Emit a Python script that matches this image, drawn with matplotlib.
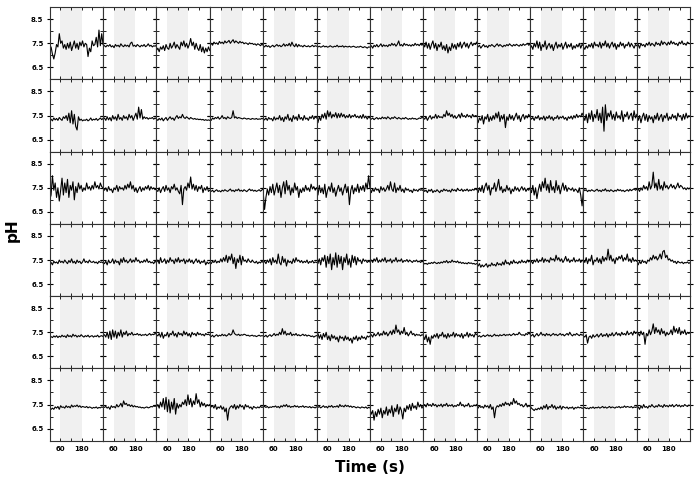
import numpy as np
import matplotlib
matplotlib.use('Agg')
import matplotlib.pyplot as plt
from matplotlib.ticker import FixedLocator

# pH traces, one list per panel, 12 panels per row
row1 = [
    [7.25, 7.35, 7.05, 6.85, 7.1, 7.45, 7.35, 7.9, 7.5, 7.6, 7.3, 7.45, 7.25, 7.5, 7.3, 7.55, 7.2, 7.4, 7.6, 7.3, 7.5, 7.25, 7.55, 7.4, 7.6, 7.35, 7.5, 7.45, 6.95, 7.3, 7.15, 7.6, 7.4, 7.45, 7.75, 7.35, 8.05, 7.4, 7.9, 7.45],
    [7.45, 7.4, 7.35, 7.42, 7.38, 7.45, 7.35, 7.4, 7.32, 7.45, 7.38, 7.42, 7.35, 7.48, 7.4, 7.36, 7.44, 7.38, 7.42, 7.35, 7.5, 7.55, 7.38, 7.42, 7.36, 7.45, 7.4, 7.35, 7.42, 7.38, 7.45, 7.36, 7.4, 7.48, 7.38, 7.42, 7.35, 7.4, 7.38, 7.42],
    [7.2, 7.3, 7.15, 7.35, 7.25, 7.4, 7.2, 7.45, 7.3, 7.25, 7.5, 7.3, 7.4, 7.55, 7.3, 7.45, 7.35, 7.25, 7.55, 7.4, 7.6, 7.35, 7.5, 7.3, 7.45, 7.7, 7.4, 7.55, 7.25, 7.5, 7.3, 7.2, 7.45, 7.15, 7.35, 7.1, 7.3, 7.15, 7.35, 7.2],
    [7.45, 7.5, 7.42, 7.55, 7.48, 7.52, 7.45, 7.58, 7.5, 7.55, 7.48, 7.6, 7.52, 7.56, 7.62, 7.5, 7.58, 7.65, 7.52, 7.6, 7.55, 7.5, 7.58, 7.52, 7.55, 7.48, 7.52, 7.5, 7.45, 7.52, 7.48, 7.5, 7.45, 7.48, 7.42, 7.48, 7.45, 7.4, 7.46, 7.42],
    [7.4, 7.35, 7.42, 7.36, 7.4, 7.33, 7.38, 7.42, 7.35, 7.4, 7.45, 7.38, 7.42, 7.36, 7.4, 7.48, 7.38, 7.45, 7.4, 7.5, 7.38, 7.55, 7.42, 7.36, 7.48, 7.35, 7.45, 7.38, 7.4, 7.35, 7.42, 7.38, 7.36, 7.4, 7.35, 7.38, 7.42, 7.36, 7.4, 7.38],
    [7.38, 7.35, 7.38, 7.34, 7.36, 7.4, 7.35, 7.38, 7.34, 7.36, 7.4, 7.36, 7.34, 7.38, 7.36, 7.42, 7.35, 7.38, 7.36, 7.4, 7.34, 7.38, 7.36, 7.35, 7.38, 7.34, 7.36, 7.38, 7.35, 7.33, 7.36, 7.34, 7.38, 7.35, 7.32, 7.36, 7.34, 7.3, 7.35, 7.34],
    [7.35, 7.4, 7.3, 7.42, 7.36, 7.45, 7.35, 7.4, 7.48, 7.36, 7.44, 7.38, 7.42, 7.36, 7.45, 7.4, 7.5, 7.42, 7.48, 7.38, 7.46, 7.6, 7.4, 7.45, 7.38, 7.5, 7.42, 7.46, 7.4, 7.44, 7.38, 7.45, 7.4, 7.5, 7.42, 7.46, 7.4, 7.48, 7.42, 7.5],
    [7.5, 7.35, 7.55, 7.3, 7.5, 7.25, 7.45, 7.6, 7.3, 7.5, 7.2, 7.45, 7.35, 7.55, 7.25, 7.4, 7.2, 7.45, 7.1, 7.35, 7.2, 7.5, 7.3, 7.45, 7.25, 7.5, 7.35, 7.55, 7.3, 7.45, 7.55, 7.35, 7.5, 7.3, 7.45, 7.55, 7.4, 7.5, 7.45, 7.55],
    [7.4, 7.35, 7.42, 7.3, 7.38, 7.45, 7.35, 7.4, 7.32, 7.42, 7.38, 7.45, 7.4, 7.35, 7.42, 7.48, 7.38, 7.45, 7.4, 7.35, 7.42, 7.38, 7.45, 7.4, 7.48, 7.42, 7.38, 7.45, 7.4, 7.46, 7.42, 7.38, 7.45, 7.4, 7.48, 7.42, 7.45, 7.5, 7.42, 7.46],
    [7.3, 7.4, 7.25, 7.5, 7.35, 7.6, 7.3, 7.55, 7.2, 7.45, 7.35, 7.6, 7.25, 7.4, 7.5, 7.3, 7.45, 7.2, 7.4, 7.55, 7.3, 7.45, 7.35, 7.5, 7.25, 7.4, 7.55, 7.3, 7.45, 7.35, 7.5, 7.25, 7.4, 7.3, 7.45, 7.35, 7.5, 7.3, 7.45, 7.4],
    [7.35, 7.25, 7.4, 7.3, 7.45, 7.35, 7.5, 7.3, 7.55, 7.4, 7.45, 7.35, 7.55, 7.3, 7.5, 7.4, 7.6, 7.35, 7.5, 7.3, 7.45, 7.55, 7.35, 7.5, 7.25, 7.45, 7.35, 7.55, 7.4, 7.5, 7.3, 7.45, 7.4, 7.55, 7.35, 7.5, 7.4, 7.3, 7.45, 7.4],
    [7.35, 7.45, 7.3, 7.5, 7.4, 7.45, 7.35, 7.5, 7.42, 7.55, 7.4, 7.5, 7.45, 7.38, 7.55, 7.45, 7.5, 7.4, 7.6, 7.45, 7.55, 7.5, 7.42, 7.55, 7.45, 7.6, 7.48, 7.55, 7.45, 7.5, 7.4, 7.55, 7.48, 7.6, 7.45, 7.5, 7.42, 7.55, 7.5, 7.48],
]
row2 = [
    [7.3, 7.35, 7.28, 7.4, 7.32, 7.38, 7.3, 7.42, 7.35, 7.3, 7.45, 7.38, 7.5, 7.3, 7.6, 7.2, 7.7, 7.15, 7.55, 7.05, 6.9, 7.45, 7.3, 7.35, 7.28, 7.32, 7.3, 7.35, 7.28, 7.32, 7.4, 7.3, 7.35, 7.32, 7.38, 7.3, 7.35, 7.4, 7.33, 7.38],
    [7.35, 7.4, 7.3, 7.45, 7.32, 7.42, 7.28, 7.5, 7.35, 7.45, 7.3, 7.55, 7.35, 7.42, 7.3, 7.5, 7.38, 7.45, 7.32, 7.55, 7.4, 7.5, 7.3, 7.45, 7.6, 7.35, 7.85, 7.4, 7.75, 7.35, 7.45, 7.38, 7.42, 7.35, 7.4, 7.38, 7.42, 7.35, 7.4, 7.36],
    [7.35, 7.3, 7.38, 7.32, 7.4, 7.28, 7.36, 7.42, 7.3, 7.38, 7.45, 7.35, 7.4, 7.3, 7.42, 7.5, 7.38, 7.45, 7.4, 7.55, 7.42, 7.38, 7.45, 7.4, 7.35, 7.42, 7.38, 7.35, 7.38, 7.34, 7.36, 7.33, 7.35, 7.32, 7.34, 7.3, 7.33, 7.3, 7.32, 7.3],
    [7.35, 7.3, 7.4, 7.35, 7.42, 7.38, 7.45, 7.35, 7.4, 7.5, 7.38, 7.42, 7.35, 7.45, 7.4, 7.38, 7.42, 7.7, 7.4, 7.45, 7.38, 7.42, 7.4, 7.38, 7.36, 7.4, 7.38, 7.35, 7.38, 7.36, 7.34, 7.38, 7.36, 7.35, 7.38, 7.34, 7.36, 7.35, 7.38, 7.36],
    [7.38, 7.32, 7.4, 7.3, 7.42, 7.35, 7.38, 7.28, 7.45, 7.32, 7.4, 7.35, 7.5, 7.3, 7.42, 7.25, 7.45, 7.35, 7.55, 7.3, 7.4, 7.25, 7.5, 7.35, 7.45, 7.3, 7.55, 7.35, 7.42, 7.3, 7.5, 7.35, 7.4, 7.3, 7.45, 7.38, 7.5, 7.35, 7.45, 7.4],
    [7.35, 7.2, 7.45, 7.3, 7.55, 7.4, 7.6, 7.35, 7.7, 7.45, 7.65, 7.4, 7.55, 7.45, 7.62, 7.4, 7.58, 7.42, 7.6, 7.45, 7.55, 7.4, 7.5, 7.42, 7.55, 7.4, 7.5, 7.45, 7.55, 7.42, 7.48, 7.4, 7.5, 7.38, 7.55, 7.4, 7.48, 7.35, 7.45, 7.4],
    [7.38, 7.35, 7.4, 7.33, 7.38, 7.42, 7.35, 7.4, 7.36, 7.44, 7.38, 7.42, 7.36, 7.45, 7.4, 7.35, 7.42, 7.38, 7.45, 7.4, 7.36, 7.42, 7.38, 7.35, 7.4, 7.36, 7.42, 7.38, 7.34, 7.38, 7.35, 7.4, 7.36, 7.38, 7.34, 7.36, 7.4, 7.38, 7.42, 7.4],
    [7.4, 7.35, 7.45, 7.3, 7.42, 7.5, 7.35, 7.45, 7.4, 7.55, 7.38, 7.5, 7.42, 7.45, 7.4, 7.55, 7.45, 7.7, 7.5, 7.6, 7.45, 7.55, 7.4, 7.5, 7.38, 7.45, 7.55, 7.4, 7.6, 7.45, 7.5, 7.42, 7.55, 7.45, 7.5, 7.4, 7.55, 7.45, 7.5, 7.48],
    [7.45, 7.2, 7.4, 7.3, 7.5, 7.15, 7.45, 7.35, 7.55, 7.25, 7.45, 7.3, 7.5, 7.35, 7.6, 7.4, 7.65, 7.25, 7.5, 7.35, 7.55, 7.0, 7.45, 7.3, 7.55, 7.35, 7.5, 7.3, 7.45, 7.6, 7.35, 7.5, 7.25, 7.45, 7.55, 7.35, 7.5, 7.4, 7.55, 7.45],
    [7.45, 7.35, 7.42, 7.3, 7.45, 7.38, 7.5, 7.32, 7.42, 7.35, 7.48, 7.3, 7.45, 7.38, 7.5, 7.35, 7.45, 7.3, 7.42, 7.38, 7.5, 7.35, 7.45, 7.4, 7.48, 7.35, 7.42, 7.3, 7.45, 7.38, 7.48, 7.35, 7.5, 7.4, 7.55, 7.42, 7.5, 7.45, 7.6, 7.48],
    [7.45, 7.3, 7.55, 7.2, 7.6, 7.35, 7.7, 7.25, 7.55, 7.4, 7.75, 7.3, 7.6, 7.2, 7.85, 6.85, 7.95, 7.3, 7.6, 7.45, 7.7, 7.35, 7.55, 7.3, 7.65, 7.4, 7.5, 7.35, 7.7, 7.25, 7.55, 7.45, 7.65, 7.35, 7.5, 7.6, 7.3, 7.7, 7.4, 7.55],
    [7.55, 7.3, 7.5, 7.2, 7.45, 7.6, 7.3, 7.55, 7.25, 7.5, 7.35, 7.45, 7.2, 7.5, 7.35, 7.6, 7.3, 7.45, 7.55, 7.25, 7.5, 7.4, 7.6, 7.3, 7.45, 7.35, 7.55, 7.4, 7.5, 7.3, 7.6, 7.45, 7.5, 7.3, 7.55, 7.35, 7.6, 7.4, 7.5, 7.45],
]
row3 = [
    [7.0, 7.2, 8.0, 7.4, 7.7, 7.1, 7.5, 6.95, 7.4, 7.9, 7.2, 7.7, 7.3, 7.85, 7.1, 7.6, 7.4, 7.75, 7.0, 7.55, 7.3, 7.7, 7.45, 7.6, 7.35, 7.5, 7.4, 7.7, 7.45, 7.55, 7.4, 7.6, 7.45, 7.75, 7.5, 7.6, 7.45, 7.7, 7.55, 7.5],
    [7.45, 7.4, 7.5, 7.35, 7.55, 7.4, 7.45, 7.3, 7.5, 7.42, 7.6, 7.35, 7.55, 7.45, 7.5, 7.4, 7.6, 7.45, 7.65, 7.5, 7.75, 7.45, 7.6, 7.35, 7.5, 7.3, 7.45, 7.55, 7.35, 7.5, 7.4, 7.55, 7.45, 7.6, 7.4, 7.55, 7.45, 7.5, 7.42, 7.45],
    [7.4, 7.35, 7.5, 7.3, 7.45, 7.55, 7.35, 7.6, 7.4, 7.5, 7.3, 7.55, 7.45, 7.65, 7.4, 7.5, 7.35, 7.25, 7.6, 6.8, 7.45, 7.55, 7.4, 7.7, 7.5, 7.95, 7.45, 7.65, 7.4, 7.6, 7.35, 7.55, 7.45, 7.6, 7.3, 7.5, 7.4, 7.55, 7.35, 7.4],
    [7.38, 7.35, 7.4, 7.32, 7.38, 7.42, 7.35, 7.38, 7.33, 7.4, 7.36, 7.42, 7.38, 7.35, 7.4, 7.45, 7.36, 7.4, 7.34, 7.42, 7.38, 7.45, 7.36, 7.4, 7.35, 7.42, 7.38, 7.34, 7.4, 7.45, 7.38, 7.42, 7.36, 7.4, 7.35, 7.38, 7.42, 7.36, 7.4, 7.48],
    [7.3, 6.6, 7.1, 7.45, 7.2, 7.55, 7.3, 7.65, 7.2, 7.45, 7.7, 7.3, 7.6, 7.1, 7.5, 7.75, 7.25, 7.8, 7.4, 7.6, 7.2, 7.5, 7.3, 7.7, 7.4, 7.55, 7.1, 7.45, 7.3, 7.5, 7.35, 7.6, 7.4, 7.5, 7.35, 7.65, 7.45, 7.55, 7.4, 7.5],
    [7.45, 7.2, 7.6, 7.3, 7.5, 7.25, 7.65, 7.1, 7.4, 7.55, 7.35, 7.7, 7.3, 7.5, 7.15, 7.4, 7.6, 7.35, 7.5, 7.2, 7.45, 7.65, 7.3, 7.55, 6.8, 7.4, 7.6, 7.25, 7.5, 7.35, 7.65, 7.3, 7.55, 7.4, 7.6, 7.35, 7.7, 7.45, 8.0, 7.5],
    [7.5, 7.3, 7.45, 7.35, 7.5, 7.4, 7.45, 7.3, 7.55, 7.4, 7.5, 7.35, 7.45, 7.6, 7.4, 7.75, 7.45, 7.35, 7.7, 7.3, 7.5, 7.4, 7.6, 7.35, 7.45, 7.3, 7.5, 7.4, 7.45, 7.35, 7.4, 7.3, 7.45, 7.38, 7.42, 7.35, 7.45, 7.4, 7.42, 7.38],
    [7.45, 7.35, 7.4, 7.3, 7.42, 7.36, 7.44, 7.3, 7.38, 7.34, 7.42, 7.36, 7.3, 7.4, 7.35, 7.45, 7.38, 7.42, 7.35, 7.4, 7.32, 7.45, 7.38, 7.42, 7.35, 7.48, 7.4, 7.38, 7.45, 7.35, 7.42, 7.38, 7.45, 7.36, 7.42, 7.38, 7.44, 7.4, 7.46, 7.42],
    [7.4, 7.3, 7.5, 7.35, 7.6, 7.3, 7.55, 7.7, 7.4, 7.6, 7.2, 7.5, 7.45, 7.7, 7.35, 7.55, 7.85, 7.4, 7.55, 7.3, 7.45, 7.35, 7.6, 7.4, 7.5, 7.25, 7.45, 7.35, 7.55, 7.4, 7.5, 7.35, 7.45, 7.55, 7.4, 7.5, 7.35, 7.45, 7.4, 7.5],
    [7.45, 7.3, 7.6, 7.2, 7.5, 7.05, 7.4, 7.65, 7.35, 7.75, 7.5, 7.9, 7.4, 7.65, 7.3, 7.8, 7.4, 7.55, 7.3, 7.8, 7.4, 7.6, 7.25, 7.5, 7.7, 7.4, 7.6, 7.35, 7.5, 7.45, 7.4, 7.5, 7.35, 7.45, 7.4, 7.3, 7.5, 7.2, 6.75, 7.4],
    [7.45, 7.38, 7.42, 7.34, 7.4, 7.36, 7.42, 7.38, 7.35, 7.4, 7.44, 7.36, 7.4, 7.34, 7.42, 7.38, 7.46, 7.36, 7.4, 7.35, 7.42, 7.38, 7.34, 7.4, 7.36, 7.44, 7.38, 7.42, 7.36, 7.4, 7.34, 7.38, 7.42, 7.36, 7.44, 7.38, 7.42, 7.46, 7.4, 7.44],
    [7.4, 7.45, 7.35, 7.5, 7.4, 7.6, 7.45, 7.55, 7.4, 7.75, 7.45, 7.6, 8.15, 7.5, 7.7, 7.4, 7.85, 7.45, 7.6, 7.4, 7.75, 7.5, 7.6, 7.45, 7.55, 7.65, 7.5, 7.6, 7.45, 7.55, 7.7, 7.5, 7.6, 7.55, 7.45, 7.5, 7.42, 7.5, 7.45, 7.5],
]
row4 = [
    [7.35, 7.4, 7.3, 7.45, 7.38, 7.42, 7.35, 7.5, 7.4, 7.45, 7.38, 7.5, 7.42, 7.35, 7.48, 7.4, 7.55, 7.38, 7.45, 7.35, 7.5, 7.4, 7.45, 7.35, 7.42, 7.55, 7.4, 7.45, 7.38, 7.5, 7.42, 7.4, 7.45, 7.38, 7.42, 7.35, 7.45, 7.4, 7.42, 7.38],
    [7.4, 7.35, 7.45, 7.3, 7.5, 7.38, 7.42, 7.55, 7.35, 7.5, 7.4, 7.45, 7.3, 7.55, 7.4, 7.6, 7.42, 7.5, 7.38, 7.45, 7.55, 7.4, 7.5, 7.42, 7.6, 7.45, 7.5, 7.38, 7.45, 7.4, 7.5, 7.42, 7.55, 7.4, 7.45, 7.38, 7.42, 7.35, 7.45, 7.4],
    [7.4, 7.5, 7.35, 7.6, 7.4, 7.45, 7.55, 7.35, 7.5, 7.4, 7.6, 7.45, 7.5, 7.35, 7.55, 7.42, 7.6, 7.4, 7.5, 7.45, 7.55, 7.35, 7.5, 7.42, 7.55, 7.4, 7.5, 7.35, 7.45, 7.55, 7.4, 7.5, 7.35, 7.45, 7.4, 7.5, 7.3, 7.42, 7.35, 7.4],
    [7.4, 7.35, 7.45, 7.4, 7.5, 7.38, 7.45, 7.4, 7.55, 7.42, 7.6, 7.45, 7.7, 7.4, 7.65, 7.5, 7.75, 7.35, 7.6, 7.15, 7.55, 7.4, 7.7, 7.3, 7.65, 7.45, 7.5, 7.4, 7.55, 7.45, 7.4, 7.5, 7.42, 7.38, 7.45, 7.35, 7.42, 7.38, 7.45, 7.4],
    [7.4, 7.45, 7.35, 7.5, 7.4, 7.55, 7.3, 7.6, 7.4, 7.5, 7.35, 7.75, 7.4, 7.3, 7.65, 7.4, 7.55, 7.25, 7.5, 7.4, 7.45, 7.35, 7.55, 7.4, 7.6, 7.45, 7.5, 7.4, 7.48, 7.38, 7.45, 7.4, 7.5, 7.36, 7.44, 7.4, 7.48, 7.38, 7.42, 7.4],
    [7.4, 7.35, 7.55, 7.3, 7.6, 7.45, 7.7, 7.2, 7.65, 7.35, 7.75, 7.1, 7.6, 7.3, 7.8, 7.2, 7.7, 7.35, 7.65, 7.1, 7.6, 7.4, 7.75, 7.3, 7.55, 7.2, 7.7, 7.4, 7.65, 7.3, 7.6, 7.45, 7.5, 7.35, 7.55, 7.45, 7.5, 7.4, 7.45, 7.42],
    [7.45, 7.5, 7.4, 7.55, 7.45, 7.6, 7.4, 7.5, 7.42, 7.55, 7.45, 7.6, 7.4, 7.5, 7.45, 7.55, 7.38, 7.5, 7.45, 7.6, 7.42, 7.5, 7.45, 7.55, 7.4, 7.48, 7.45, 7.52, 7.42, 7.5, 7.45, 7.4, 7.48, 7.44, 7.5, 7.42, 7.46, 7.4, 7.45, 7.42],
    [7.38, 7.34, 7.36, 7.32, 7.38, 7.35, 7.4, 7.36, 7.42, 7.38, 7.35, 7.4, 7.36, 7.42, 7.38, 7.45, 7.4, 7.48, 7.38, 7.44, 7.4, 7.5, 7.42, 7.45, 7.4, 7.46, 7.38, 7.42, 7.36, 7.4, 7.35, 7.38, 7.34, 7.4, 7.36, 7.38, 7.34, 7.36, 7.32, 7.35],
    [7.3, 7.25, 7.35, 7.2, 7.3, 7.22, 7.28, 7.35, 7.2, 7.3, 7.25, 7.38, 7.28, 7.32, 7.25, 7.4, 7.3, 7.35, 7.28, 7.42, 7.3, 7.5, 7.35, 7.4, 7.3, 7.45, 7.35, 7.5, 7.38, 7.42, 7.35, 7.45, 7.38, 7.5, 7.4, 7.45, 7.38, 7.5, 7.42, 7.48],
    [7.4, 7.45, 7.35, 7.5, 7.42, 7.55, 7.4, 7.5, 7.45, 7.6, 7.4, 7.55, 7.45, 7.5, 7.4, 7.6, 7.5, 7.55, 7.45, 7.7, 7.5, 7.6, 7.45, 7.55, 7.4, 7.5, 7.65, 7.45, 7.55, 7.4, 7.5, 7.45, 7.6, 7.42, 7.5, 7.45, 7.55, 7.4, 7.5, 7.45],
    [7.5, 7.4, 7.6, 7.35, 7.55, 7.45, 7.7, 7.3, 7.5, 7.45, 7.6, 7.4, 7.55, 7.35, 7.65, 7.45, 7.6, 7.5, 7.95, 7.5, 7.7, 7.45, 7.55, 7.35, 7.6, 7.5, 7.65, 7.55, 7.7, 7.45, 7.6, 7.5, 7.75, 7.45, 7.55, 7.4, 7.6, 7.45, 7.5, 7.45],
    [7.4, 7.3, 7.45, 7.35, 7.5, 7.4, 7.45, 7.35, 7.5, 7.45, 7.6, 7.5, 7.7, 7.55, 7.65, 7.5, 7.6, 7.75, 7.55, 7.85, 7.9, 7.6, 7.7, 7.5, 7.55, 7.45, 7.5, 7.4, 7.45, 7.35, 7.45, 7.4, 7.38, 7.42, 7.35, 7.4, 7.38, 7.42, 7.36, 7.4],
]
row5 = [
    [7.3, 7.32, 7.28, 7.35, 7.3, 7.36, 7.28, 7.34, 7.3, 7.38, 7.32, 7.35, 7.28, 7.4, 7.32, 7.36, 7.3, 7.42, 7.34, 7.38, 7.3, 7.36, 7.32, 7.4, 7.34, 7.3, 7.36, 7.32, 7.38, 7.3, 7.34, 7.36, 7.3, 7.35, 7.32, 7.38, 7.3, 7.34, 7.36, 7.32],
    [7.35, 7.4, 7.3, 7.5, 7.25, 7.55, 7.2, 7.6, 7.3, 7.55, 7.25, 7.5, 7.35, 7.6, 7.3, 7.5, 7.4, 7.55, 7.35, 7.45, 7.4, 7.5, 7.38, 7.42, 7.4, 7.45, 7.38, 7.42, 7.36, 7.4, 7.38, 7.42, 7.36, 7.4, 7.45, 7.38, 7.42, 7.4, 7.45, 7.42],
    [7.4, 7.35, 7.45, 7.3, 7.5, 7.25, 7.4, 7.35, 7.5, 7.3, 7.45, 7.4, 7.55, 7.35, 7.45, 7.3, 7.5, 7.4, 7.45, 7.35, 7.55, 7.4, 7.5, 7.35, 7.45, 7.3, 7.5, 7.4, 7.45, 7.35, 7.5, 7.4, 7.45, 7.38, 7.42, 7.35, 7.45, 7.4, 7.42, 7.38],
    [7.35, 7.32, 7.38, 7.3, 7.36, 7.4, 7.33, 7.38, 7.35, 7.42, 7.36, 7.4, 7.34, 7.38, 7.45, 7.38, 7.42, 7.6, 7.45, 7.4, 7.38, 7.42, 7.36, 7.4, 7.38, 7.42, 7.4, 7.36, 7.38, 7.34, 7.36, 7.38, 7.34, 7.36, 7.32, 7.35, 7.38, 7.34, 7.36, 7.35],
    [7.35, 7.32, 7.38, 7.3, 7.36, 7.4, 7.33, 7.38, 7.45, 7.36, 7.42, 7.38, 7.5, 7.4, 7.65, 7.42, 7.55, 7.38, 7.45, 7.4, 7.5, 7.36, 7.42, 7.38, 7.45, 7.36, 7.4, 7.35, 7.38, 7.42, 7.36, 7.4, 7.34, 7.38, 7.36, 7.32, 7.35, 7.3, 7.34, 7.36],
    [7.35, 7.45, 7.25, 7.4, 7.2, 7.45, 7.3, 7.5, 7.2, 7.35, 7.15, 7.4, 7.25, 7.35, 7.2, 7.3, 7.1, 7.35, 7.25, 7.3, 7.15, 7.35, 7.2, 7.3, 7.15, 7.25, 7.05, 7.3, 7.2, 7.35, 7.15, 7.3, 7.2, 7.35, 7.25, 7.3, 7.2, 7.35, 7.3, 7.35],
    [7.35, 7.4, 7.3, 7.45, 7.35, 7.4, 7.5, 7.35, 7.45, 7.38, 7.55, 7.4, 7.5, 7.35, 7.45, 7.55, 7.4, 7.6, 7.45, 7.8, 7.5, 7.6, 7.4, 7.55, 7.45, 7.7, 7.4, 7.5, 7.35, 7.45, 7.55, 7.4, 7.45, 7.35, 7.42, 7.38, 7.4, 7.35, 7.4, 7.38],
    [7.35, 7.2, 7.4, 7.1, 7.3, 7.0, 7.35, 7.25, 7.4, 7.3, 7.45, 7.25, 7.4, 7.35, 7.5, 7.3, 7.4, 7.25, 7.45, 7.3, 7.4, 7.35, 7.5, 7.3, 7.45, 7.35, 7.4, 7.3, 7.45, 7.25, 7.4, 7.35, 7.5, 7.3, 7.45, 7.35, 7.4, 7.3, 7.45, 7.4],
    [7.35, 7.32, 7.36, 7.3, 7.34, 7.38, 7.32, 7.36, 7.4, 7.34, 7.38, 7.32, 7.36, 7.42, 7.35, 7.38, 7.34, 7.4, 7.36, 7.38, 7.42, 7.36, 7.4, 7.38, 7.42, 7.36, 7.4, 7.45, 7.38, 7.42, 7.4, 7.5, 7.42, 7.38, 7.4, 7.36, 7.45, 7.4, 7.48, 7.42],
    [7.4, 7.35, 7.42, 7.3, 7.38, 7.45, 7.35, 7.4, 7.5, 7.38, 7.42, 7.35, 7.45, 7.38, 7.42, 7.35, 7.4, 7.45, 7.38, 7.42, 7.36, 7.4, 7.45, 7.38, 7.42, 7.35, 7.4, 7.45, 7.38, 7.5, 7.4, 7.35, 7.42, 7.38, 7.45, 7.4, 7.36, 7.42, 7.38, 7.4],
    [7.35, 7.3, 7.4, 7.05, 7.3, 7.35, 7.25, 7.4, 7.3, 7.35, 7.42, 7.3, 7.38, 7.45, 7.32, 7.4, 7.35, 7.45, 7.3, 7.42, 7.36, 7.48, 7.35, 7.4, 7.5, 7.38, 7.45, 7.35, 7.5, 7.4, 7.45, 7.38, 7.55, 7.4, 7.45, 7.5, 7.38, 7.55, 7.45, 7.5],
    [7.4, 7.45, 7.35, 7.55, 7.4, 7.5, 7.0, 7.45, 7.35, 7.6, 7.4, 7.55, 7.85, 7.45, 7.7, 7.5, 7.6, 7.4, 7.65, 7.45, 7.55, 7.35, 7.5, 7.4, 7.45, 7.6, 7.4, 7.75, 7.5, 7.65, 7.45, 7.7, 7.4, 7.55, 7.45, 7.6, 7.4, 7.5, 7.45, 7.5],
]
row6 = [
    [7.25, 7.3, 7.35, 7.3, 7.4, 7.35, 7.42, 7.3, 7.45, 7.38, 7.4, 7.35, 7.45, 7.38, 7.42, 7.36, 7.48, 7.4, 7.45, 7.42, 7.48, 7.4, 7.45, 7.38, 7.42, 7.4, 7.38, 7.42, 7.36, 7.4, 7.38, 7.34, 7.38, 7.36, 7.4, 7.34, 7.38, 7.36, 7.4, 7.38],
    [7.4, 7.38, 7.42, 7.35, 7.4, 7.3, 7.45, 7.38, 7.42, 7.36, 7.5, 7.4, 7.45, 7.55, 7.4, 7.65, 7.5, 7.55, 7.45, 7.5, 7.42, 7.48, 7.4, 7.45, 7.4, 7.42, 7.38, 7.4, 7.36, 7.38, 7.35, 7.38, 7.4, 7.36, 7.38, 7.42, 7.4, 7.45, 7.42, 7.48],
    [7.4, 7.5, 7.35, 7.6, 7.4, 7.75, 7.3, 7.8, 7.2, 7.7, 7.15, 7.6, 7.3, 7.75, 7.1, 7.55, 7.35, 7.5, 7.4, 7.6, 7.5, 7.7, 7.45, 7.9, 7.5, 7.75, 7.4, 7.65, 7.5, 7.95, 7.55, 7.7, 7.4, 7.6, 7.45, 7.55, 7.4, 7.5, 7.45, 7.5],
    [7.5, 7.4, 7.45, 7.35, 7.5, 7.3, 7.4, 7.35, 7.45, 7.3, 7.4, 7.2, 7.35, 6.85, 7.3, 7.4, 7.45, 7.35, 7.5, 7.3, 7.45, 7.35, 7.5, 7.4, 7.45, 7.3, 7.5, 7.4, 7.45, 7.35, 7.4, 7.3, 7.42, 7.38, 7.35, 7.4, 7.36, 7.42, 7.38, 7.4],
    [7.4, 7.42, 7.38, 7.42, 7.36, 7.4, 7.38, 7.42, 7.4, 7.44, 7.38, 7.42, 7.36, 7.45, 7.4, 7.48, 7.42, 7.5, 7.4, 7.45, 7.38, 7.42, 7.4, 7.46, 7.4, 7.44, 7.38, 7.42, 7.4, 7.45, 7.38, 7.42, 7.4, 7.38, 7.42, 7.36, 7.4, 7.38, 7.36, 7.4],
    [7.4, 7.38, 7.42, 7.36, 7.4, 7.45, 7.38, 7.42, 7.36, 7.44, 7.4, 7.46, 7.38, 7.42, 7.4, 7.45, 7.38, 7.5, 7.42, 7.45, 7.4, 7.48, 7.42, 7.46, 7.4, 7.44, 7.38, 7.42, 7.4, 7.36, 7.4, 7.38, 7.35, 7.4, 7.38, 7.36, 7.4, 7.34, 7.38, 7.36],
    [7.3, 7.1, 7.25, 6.85, 7.2, 7.0, 7.3, 7.1, 7.35, 6.95, 7.25, 7.1, 7.4, 7.05, 7.3, 7.15, 7.45, 7.0, 7.35, 7.2, 7.5, 7.1, 7.4, 7.25, 6.9, 7.35, 7.2, 7.45, 7.3, 7.5, 7.25, 7.55, 7.35, 7.45, 7.3, 7.6, 7.4, 7.5, 7.35, 7.45],
    [7.45, 7.5, 7.4, 7.55, 7.45, 7.5, 7.42, 7.55, 7.45, 7.5, 7.4, 7.48, 7.44, 7.52, 7.4, 7.5, 7.45, 7.55, 7.42, 7.48, 7.44, 7.5, 7.4, 7.46, 7.42, 7.5, 7.45, 7.6, 7.45, 7.5, 7.4, 7.48, 7.44, 7.55, 7.4, 7.45, 7.42, 7.48, 7.45, 7.5],
    [7.4, 7.35, 7.45, 7.38, 7.42, 7.35, 7.48, 7.4, 7.45, 7.35, 7.5, 7.3, 7.4, 6.95, 7.35, 7.45, 7.4, 7.5, 7.42, 7.55, 7.45, 7.6, 7.5, 7.55, 7.45, 7.6, 7.5, 7.75, 7.55, 7.65, 7.5, 7.55, 7.45, 7.5, 7.4, 7.45, 7.55, 7.4, 7.45, 7.42],
    [7.45, 7.35, 7.3, 7.25, 7.32, 7.28, 7.35, 7.3, 7.4, 7.3, 7.45, 7.35, 7.5, 7.3, 7.42, 7.38, 7.5, 7.35, 7.45, 7.3, 7.4, 7.35, 7.45, 7.3, 7.42, 7.38, 7.35, 7.4, 7.32, 7.38, 7.35, 7.4, 7.3, 7.38, 7.35, 7.4, 7.36, 7.38, 7.34, 7.36],
    [7.35, 7.38, 7.33, 7.36, 7.32, 7.38, 7.35, 7.4, 7.34, 7.38, 7.36, 7.4, 7.35, 7.38, 7.42, 7.36, 7.4, 7.35, 7.38, 7.42, 7.36, 7.4, 7.38, 7.35, 7.4, 7.38, 7.42, 7.36, 7.4, 7.38, 7.44, 7.38, 7.42, 7.4, 7.38, 7.42, 7.36, 7.4, 7.38, 7.4],
    [7.35, 7.4, 7.3, 7.45, 7.35, 7.5, 7.38, 7.42, 7.35, 7.45, 7.4, 7.5, 7.42, 7.38, 7.45, 7.4, 7.5, 7.42, 7.45, 7.38, 7.5, 7.42, 7.46, 7.4, 7.48, 7.42, 7.5, 7.4, 7.45, 7.5, 7.42, 7.48, 7.4, 7.46, 7.42, 7.5, 7.45, 7.42, 7.48, 7.45],
]
rows = [row1, row2, row3, row4, row5, row6]

stim_window = (60, 180)  # shaded stimulus period (s)
t_end = 300

fig, axes = plt.subplots(6, 12, figsize=(7, 4.8), dpi=100, sharex=True, sharey=True)
fig.subplots_adjust(left=0.071, right=0.986, top=0.985, bottom=0.082, wspace=0, hspace=0)

for r, row in enumerate(rows):
    for c, trace in enumerate(row):
        ax = axes[r, c]
        t = np.linspace(0, t_end, len(trace))
        ax.axvspan(*stim_window, color='#f0f0f0', lw=0, zorder=0)
        ax.plot(t, trace, color='black', lw=0.8)
        ax.set_xlim(0, t_end)
        ax.set_ylim(6.0, 9.0)
        ax.xaxis.set_major_locator(FixedLocator([60, 180]))
        ax.xaxis.set_minor_locator(FixedLocator([120, 240]))
        ax.yaxis.set_major_locator(FixedLocator([6.5, 7.5, 8.5]))
        ax.yaxis.set_minor_locator(FixedLocator([7.0, 8.0]))
        ax.tick_params(axis='x', which='both', direction='in', top=True, bottom=True,
                       length=2, width=0.6, labelsize=5, pad=4)
        ax.tick_params(axis='y', which='major', direction='inout', left=True, right=True,
                       length=5, width=0.8, labelsize=5, pad=2)
        ax.tick_params(axis='y', which='minor', direction='in', left=True, right=True,
                       length=2, width=0.6)
        for lab in ax.get_xticklabels() + ax.get_yticklabels():
            lab.set_fontweight('bold')
        for s in ax.spines.values():
            s.set_linewidth(0.8)
            s.set_color('#333333')

fig.text(0.017, 0.52, 'pH', rotation=90, ha='center', va='center',
         fontsize=11, fontweight='bold')
fig.text(0.528, 0.027, 'Time (s)', ha='center', va='center',
         fontsize=11, fontweight='bold')

plt.savefig('out.png', dpi=100)
